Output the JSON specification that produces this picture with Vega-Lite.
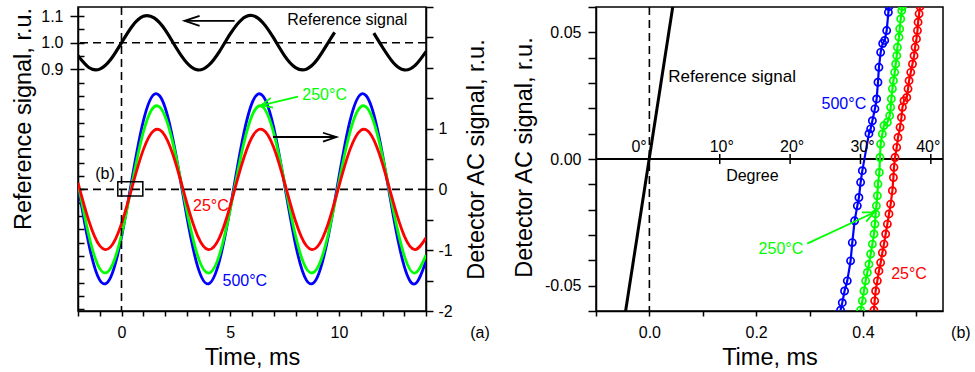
{
  "$schema": "https://vega.github.io/schema/vega-lite/v6.json",
  "padding": {"left": 11, "top": 5, "right": 5, "bottom": 5},
  "background": "white",
  "bounds": "flush",
  "spacing": 170,
  "config": {
    "font": "Liberation Sans",
    "view": {"stroke": "black", "strokeWidth": 1.5},
    "axis": {"domainColor": "black", "domainWidth": 1.5, "tickColor": "black", "tickWidth": 1.5, "labelColor": "black", "labelFontSize": 16, "titleColor": "black", "titleFontSize": 23.5, "titleFontWeight": "normal", "grid": false, "labelFont": "Liberation Sans", "titleFont": "Liberation Sans", "labelOverlap": false, "labelFlush": false, "labelBound": false},
    "text": {"font": "Liberation Sans"}
  },
  "datasets": {
    "refA": [
      {"t": -2, "ref": 0.951, "seg": 1}, {"t": -1.5, "ref": 0.907, "seg": 1}, {"t": -1, "ref": 0.901, "seg": 1}, {"t": -0.5, "ref": 0.937, "seg": 1},
      {"t": 0, "ref": 1.0, "seg": 1}, {"t": 0.5, "ref": 1.063, "seg": 1}, {"t": 1, "ref": 1.099, "seg": 1}, {"t": 1.5, "ref": 1.093, "seg": 1},
      {"t": 2, "ref": 1.049, "seg": 1}, {"t": 2.5, "ref": 0.983, "seg": 1}, {"t": 3, "ref": 0.925, "seg": 1}, {"t": 3.5, "ref": 0.898, "seg": 1},
      {"t": 4, "ref": 0.915, "seg": 1}, {"t": 4.5, "ref": 0.967, "seg": 1}, {"t": 5, "ref": 1.033, "seg": 1}, {"t": 5.5, "ref": 1.085, "seg": 1},
      {"t": 6, "ref": 1.102, "seg": 1}, {"t": 6.5, "ref": 1.075, "seg": 1}, {"t": 7, "ref": 1.017, "seg": 1}, {"t": 7.5, "ref": 0.951, "seg": 1},
      {"t": 8, "ref": 0.907, "seg": 1}, {"t": 8.5, "ref": 0.901, "seg": 1}, {"t": 9, "ref": 0.937, "seg": 1}, {"t": 9.5, "ref": 1.0, "seg": 1},
      {"t": 9.8, "ref": 1.039, "seg": 1},
      {"t": 11.6, "ref": 1.036, "seg": 2}, {"t": 12, "ref": 0.983, "seg": 2}, {"t": 12.5, "ref": 0.925, "seg": 2}, {"t": 13, "ref": 0.898, "seg": 2},
      {"t": 13.5, "ref": 0.915, "seg": 2}, {"t": 14, "ref": 0.967, "seg": 2}
    ],
    "detA": [
      {"t": -2, "b": 0.069, "g": 0.105, "r": 0.108}, {"t": -1.5, "b": -0.904, "g": -0.759, "r": -0.519},
      {"t": -1, "b": -1.492, "g": -1.303, "r": -0.927}, {"t": -0.5, "b": -1.446, "g": -1.298, "r": -0.945},
      {"t": 0, "b": -0.786, "g": -0.745, "r": -0.564}, {"t": 0.5, "b": 0.209, "g": 0.122, "r": 0.055},
      {"t": 1, "b": 1.121, "g": 0.937, "r": 0.65}, {"t": 1.5, "b": 1.564, "g": 1.358, "r": 0.972},
      {"t": 2, "b": 1.352, "g": 1.205, "r": 0.883}, {"t": 2.5, "b": 0.574, "g": 0.545, "r": 0.422},
      {"t": 3, "b": -0.442, "g": -0.345, "r": -0.217}, {"t": 3.5, "b": -1.267, "g": -1.09, "r": -0.764},
      {"t": 4, "b": -1.553, "g": -1.375, "r": -0.99}, {"t": 4.5, "b": -1.18, "g": -1.08, "r": -0.797},
      {"t": 5, "b": -0.306, "g": -0.33, "r": -0.269}, {"t": 5.5, "b": 0.703, "g": 0.56, "r": 0.373},
      {"t": 6, "b": 1.419, "g": 1.213, "r": 0.858}, {"t": 6.5, "b": 1.54, "g": 1.355, "r": 0.981},
      {"t": 7, "b": 1.017, "g": 0.925, "r": 0.69}, {"t": 7.5, "b": 0.069, "g": 0.105, "r": 0.108},
      {"t": 8, "b": -0.904, "g": -0.759, "r": -0.519}, {"t": 8.5, "b": -1.492, "g": -1.303, "r": -0.927},
      {"t": 9, "b": -1.446, "g": -1.298, "r": -0.945}, {"t": 9.5, "b": -0.786, "g": -0.745, "r": -0.564},
      {"t": 10, "b": 0.209, "g": 0.122, "r": 0.055}, {"t": 10.5, "b": 1.121, "g": 0.937, "r": 0.65},
      {"t": 11, "b": 1.564, "g": 1.358, "r": 0.972}, {"t": 11.5, "b": 1.352, "g": 1.205, "r": 0.883},
      {"t": 12, "b": 0.574, "g": 0.545, "r": 0.422}, {"t": 12.5, "b": -0.442, "g": -0.345, "r": -0.217},
      {"t": 13, "b": -1.267, "g": -1.09, "r": -0.764}, {"t": 13.5, "b": -1.553, "g": -1.375, "r": -0.99},
      {"t": 14, "b": -1.18, "g": -1.08, "r": -0.797}
    ],
    "annA": [
      {"t": 10.38, "v": 2.707, "txt": "Reference signal", "s": "ref"},
      {"t": 9.34, "v": 1.47, "txt": "250°C", "s": "250"},
      {"t": 4.11, "v": -0.357, "txt": "25°C", "s": "25"},
      {"t": 5.67, "v": -1.593, "txt": "500°C", "s": "500"},
      {"t": -0.76, "v": 0.178, "txt": "(b)", "s": "ref"},
      {"t": 16.48, "v": -2.45, "txt": "(a)", "s": "ref"}
    ],
    "arrA": [
      {"t": 5.2, "v": 2.773, "grp": "a1", "ord": 1, "s": "ref"}, {"t": 2.9, "v": 2.773, "grp": "a1", "ord": 2, "s": "ref"},
      {"t": 3.59, "v": 2.855, "grp": "h1", "ord": 1, "s": "ref"}, {"t": 2.9, "v": 2.773, "grp": "h1", "ord": 2, "s": "ref"}, {"t": 3.59, "v": 2.69, "grp": "h1", "ord": 3, "s": "ref"},
      {"t": 6.963, "v": 0.862, "grp": "a2", "ord": 1, "s": "ref"}, {"t": 9.88, "v": 0.862, "grp": "a2", "ord": 2, "s": "ref"},
      {"t": 9.264, "v": 0.932, "grp": "h2", "ord": 1, "s": "ref"}, {"t": 9.88, "v": 0.862, "grp": "h2", "ord": 2, "s": "ref"}, {"t": 9.264, "v": 0.787, "grp": "h2", "ord": 3, "s": "ref"},
      {"t": 8.11, "v": 1.525, "grp": "a3", "ord": 1, "s": "250"}, {"t": 6.43, "v": 1.384, "grp": "a3", "ord": 2, "s": "250"},
      {"t": 6.967, "v": 1.344, "grp": "h3", "ord": 1, "s": "250"}, {"t": 6.43, "v": 1.384, "grp": "h3", "ord": 2, "s": "250"}, {"t": 6.861, "v": 1.506, "grp": "h3", "ord": 3, "s": "250"}
    ],
    "refB": [{"t": -0.0449, "y": -0.0605}, {"t": 0.0441, "y": 0.0605}],
    "serB": [
      {"s": "500", "t": 0.4488, "y": 0.0602}, {"s": "500", "t": 0.4477, "y": 0.0579}, {"s": "500", "t": 0.4445, "y": 0.0507}, {"s": "500", "t": 0.4408, "y": 0.0468},
      {"s": "500", "t": 0.437, "y": 0.0456}, {"s": "500", "t": 0.4332, "y": 0.0421}, {"s": "500", "t": 0.43, "y": 0.0362}, {"s": "500", "t": 0.4282, "y": 0.0303},
      {"s": "500", "t": 0.4257, "y": 0.0237}, {"s": "500", "t": 0.4225, "y": 0.0198}, {"s": "500", "t": 0.4177, "y": 0.0151}, {"s": "500", "t": 0.4145, "y": 0.0119},
      {"s": "500", "t": 0.4113, "y": 0.01}, {"s": "500", "t": 0.3989, "y": -0.0046}, {"s": "500", "t": 0.3957, "y": -0.0092}, {"s": "500", "t": 0.3925, "y": -0.0152},
      {"s": "500", "t": 0.3895, "y": -0.0185}, {"s": "500", "t": 0.3844, "y": -0.0244}, {"s": "500", "t": 0.3801, "y": -0.033}, {"s": "500", "t": 0.3769, "y": -0.0402},
      {"s": "500", "t": 0.3707, "y": -0.0481}, {"s": "500", "t": 0.3656, "y": -0.0521}, {"s": "500", "t": 0.3613, "y": -0.0567}, {"s": "500", "t": 0.3581, "y": -0.0597},
      {"s": "250", "t": 0.474, "y": 0.0602}, {"s": "250", "t": 0.4727, "y": 0.0586}, {"s": "250", "t": 0.4708, "y": 0.0553}, {"s": "250", "t": 0.4689, "y": 0.0514},
      {"s": "250", "t": 0.4676, "y": 0.0481}, {"s": "250", "t": 0.4646, "y": 0.0441}, {"s": "250", "t": 0.4633, "y": 0.0408}, {"s": "250", "t": 0.4614, "y": 0.0375},
      {"s": "250", "t": 0.4595, "y": 0.0342}, {"s": "250", "t": 0.4571, "y": 0.0309}, {"s": "250", "t": 0.4552, "y": 0.0277}, {"s": "250", "t": 0.4533, "y": 0.0237},
      {"s": "250", "t": 0.452, "y": 0.0204}, {"s": "250", "t": 0.4501, "y": 0.0171}, {"s": "250", "t": 0.4458, "y": 0.0145}, {"s": "250", "t": 0.4394, "y": 0.0132},
      {"s": "250", "t": 0.4364, "y": 0.0099}, {"s": "250", "t": 0.4332, "y": 0.0059}, {"s": "250", "t": 0.4319, "y": 0.0006}, {"s": "250", "t": 0.4308, "y": -0.0053},
      {"s": "250", "t": 0.4282, "y": -0.0099}, {"s": "250", "t": 0.427, "y": -0.0145}, {"s": "250", "t": 0.4252, "y": -0.0185}, {"s": "250", "t": 0.4238, "y": -0.0217},
      {"s": "250", "t": 0.4225, "y": -0.0257}, {"s": "250", "t": 0.4207, "y": -0.0296}, {"s": "250", "t": 0.4177, "y": -0.0336}, {"s": "250", "t": 0.4145, "y": -0.0375},
      {"s": "250", "t": 0.4113, "y": -0.0415}, {"s": "250", "t": 0.4083, "y": -0.0448}, {"s": "250", "t": 0.4051, "y": -0.0481}, {"s": "250", "t": 0.4019, "y": -0.0521},
      {"s": "250", "t": 0.3989, "y": -0.056}, {"s": "250", "t": 0.3957, "y": -0.0597},
      {"s": "25", "t": 0.507, "y": 0.0602}, {"s": "25", "t": 0.5052, "y": 0.0573}, {"s": "25", "t": 0.5033, "y": 0.054}, {"s": "25", "t": 0.5022, "y": 0.0507},
      {"s": "25", "t": 0.5003, "y": 0.0474}, {"s": "25", "t": 0.4977, "y": 0.0441}, {"s": "25", "t": 0.4958, "y": 0.0408}, {"s": "25", "t": 0.4928, "y": 0.0375},
      {"s": "25", "t": 0.4896, "y": 0.0342}, {"s": "25", "t": 0.4864, "y": 0.0309}, {"s": "25", "t": 0.4845, "y": 0.0277}, {"s": "25", "t": 0.4821, "y": 0.0243},
      {"s": "25", "t": 0.477, "y": 0.023}, {"s": "25", "t": 0.474, "y": 0.0204}, {"s": "25", "t": 0.4721, "y": 0.0164}, {"s": "25", "t": 0.4695, "y": 0.0125},
      {"s": "25", "t": 0.4657, "y": 0.0085}, {"s": "25", "t": 0.4633, "y": 0.0046}, {"s": "25", "t": 0.4601, "y": 0.0006}, {"s": "25", "t": 0.4582, "y": -0.0033},
      {"s": "25", "t": 0.4571, "y": -0.0073}, {"s": "25", "t": 0.4552, "y": -0.0125}, {"s": "25", "t": 0.452, "y": -0.0178}, {"s": "25", "t": 0.4488, "y": -0.0217},
      {"s": "25", "t": 0.4458, "y": -0.0257}, {"s": "25", "t": 0.4426, "y": -0.0296}, {"s": "25", "t": 0.4394, "y": -0.0336}, {"s": "25", "t": 0.4364, "y": -0.037},
      {"s": "25", "t": 0.4332, "y": -0.0409}, {"s": "25", "t": 0.43, "y": -0.0442}, {"s": "25", "t": 0.427, "y": -0.0481}, {"s": "25", "t": 0.4238, "y": -0.0521},
      {"s": "25", "t": 0.422, "y": -0.056}, {"s": "25", "t": 0.4207, "y": -0.0597}
    ],
    "degB": [
      {"t": 0.1318, "y1": -0.002, "y2": 0.002}, {"t": 0.2636, "y1": -0.002, "y2": 0.002},
      {"t": 0.3954, "y1": -0.002, "y2": 0.002}, {"t": 0.5272, "y1": -0.002, "y2": 0.002}
    ],
    "annB": [
      {"t": 0.3643, "y": 0.0199, "txt": "500°C", "s": "500"},
      {"t": 0.2464, "y": -0.0374, "txt": "250°C", "s": "250"},
      {"t": 0.4864, "y": -0.0473, "txt": "25°C", "s": "25"},
      {"t": 0.1929, "y": -0.0086, "txt": "Degree", "s": "ref"},
      {"t": 0.5835, "y": -0.0706, "txt": "(b)", "s": "ref"},
      {"t": -0.0194, "y": 0.0026, "txt": "0°", "s": "ref"},
      {"t": 0.1356, "y": 0.0026, "txt": "10°", "s": "ref"},
      {"t": 0.2674, "y": 0.0026, "txt": "20°", "s": "ref"},
      {"t": 0.3992, "y": 0.0026, "txt": "30°", "s": "ref"},
      {"t": 0.5224, "y": 0.0026, "txt": "40°", "s": "ref"}
    ],
    "arrB": [
      {"t": 0.2956, "y": -0.0334, "grp": "a", "ord": 1, "s": "250"}, {"t": 0.4207, "y": -0.0211, "grp": "a", "ord": 2, "s": "250"},
      {"t": 0.3981, "y": -0.0211, "grp": "h", "ord": 1, "s": "250"}, {"t": 0.4207, "y": -0.0211, "grp": "h", "ord": 2, "s": "250"}, {"t": 0.4062, "y": -0.0247, "grp": "h", "ord": 3, "s": "250"}
    ]
  },
  "hconcat": [
    {
      "width": 348,
      "height": 304,
      "resolve": {"scale": {"y": "independent"}, "axis": {"y": "independent"}},
      "layer": [
        {
          "data": {"name": "refA"},
          "mark": {"type": "line", "interpolate": "natural", "color": "black", "strokeWidth": 3.2, "clip": true},
          "encoding": {
            "x": {"field": "t", "type": "quantitative", "scale": {"domain": [-2, 14], "nice": false, "zero": false},
              "axis": {"values": [-2, -1, 0, 1, 2, 3, 4, 5, 6, 7, 8, 9, 10, 11, 12, 13, 14], "tickCount": 100, "tickSize": 5, "labelPadding": 8, "labelOverlap": false,
                "labelExpr": "datum.value >= 0 && datum.value % 5 == 0 ? '' + datum.value : ''",
                "title": "Time, ms", "titleX": 174, "titleY": 53.3, "titleBaseline": "alphabetic", "titleAlign": "center"}},
            "y": {"field": "ref", "type": "quantitative", "scale": {"domain": [-0.006, 1.134], "nice": false, "zero": false},
              "axis": {"orient": "left", "values": [0.9, 1.0, 1.1], "tickCount": 100, "format": ".1f", "tickSize": 8, "labelPadding": 7, "labelOverlap": false,
                "title": "Reference signal, r.u.", "titleX": -47.2, "titleY": 111.5, "titleAngle": 270, "titleBaseline": "alphabetic", "titleAlign": "center"}},
            "detail": {"field": "seg"}
          }
        },
        {
          "data": {"values": [{"ref": 1.0}]},
          "mark": {"type": "rule", "color": "black", "strokeWidth": 1.6, "strokeDash": [8, 5]},
          "encoding": {
            "y": {"field": "ref", "type": "quantitative", "scale": {"domain": [-0.006, 1.134], "nice": false, "zero": false},
              "axis": {"orient": "left", "values": [0, 0.05, 0.1, 0.15, 0.2, 0.25, 0.3, 0.35, 0.4, 0.45, 0.5, 0.55, 0.6, 0.65, 0.7, 0.75, 0.8, 0.85, 0.9, 0.95, 1.0, 1.05, 1.1],
                "tickCount": 100, "tickSize": -6, "labels": false, "domain": false, "title": null}}
          }
        },
        {
          "layer": [
            {
              "data": {"name": "detA"},
              "mark": {"type": "line", "interpolate": "natural", "color": "#0000ff", "strokeWidth": 2.8, "clip": true},
              "encoding": {
                "x": {"field": "t", "type": "quantitative", "scale": {"domain": [-2, 14], "nice": false, "zero": false}},
                "y": {"field": "b", "type": "quantitative", "scale": {"domain": [-2, 3], "nice": false, "zero": false},
                  "axis": {"orient": "right", "values": [-2, -1.5, -1, -0.5, 0, 0.5, 1, 1.5, 2, 2.5, 3], "tickCount": 100, "tickSize": 7, "labelPadding": 5, "labelOverlap": false,
                    "labelExpr": "datum.value <= 1 && datum.value % 1 == 0 ? '' + datum.value : ''",
                    "labelFontSize": {"condition": {"test": "datum.value > 1 || datum.value % 1 != 0", "value": 0}, "value": 16},
                    "title": "Detector AC signal, r.u.", "titleX": 57.5, "titleY": 152, "titleAngle": 270, "titleBaseline": "alphabetic", "titleAlign": "center"}}
              }
            },
            {
              "data": {"name": "detA"},
              "mark": {"type": "line", "interpolate": "natural", "color": "#00ff00", "strokeWidth": 2.8, "clip": true},
              "encoding": {
                "x": {"field": "t", "type": "quantitative", "scale": {"domain": [-2, 14], "nice": false, "zero": false}},
                "y": {"field": "g", "type": "quantitative", "scale": {"domain": [-2, 3], "nice": false, "zero": false}}
              }
            },
            {
              "data": {"name": "detA"},
              "mark": {"type": "line", "interpolate": "natural", "color": "#ff0000", "strokeWidth": 2.8, "clip": true},
              "encoding": {
                "x": {"field": "t", "type": "quantitative", "scale": {"domain": [-2, 14], "nice": false, "zero": false}},
                "y": {"field": "r", "type": "quantitative", "scale": {"domain": [-2, 3], "nice": false, "zero": false}}
              }
            },
            {
              "data": {"values": [{"v": 0}]},
              "mark": {"type": "rule", "color": "black", "strokeWidth": 1.6, "strokeDash": [8, 5]},
              "encoding": {
                "y": {"field": "v", "type": "quantitative", "scale": {"domain": [-2, 3], "nice": false, "zero": false}}
              }
            },
            {
              "data": {"values": [{"t": 0}]},
              "mark": {"type": "rule", "color": "black", "strokeWidth": 1.6, "strokeDash": [8, 5]},
              "encoding": {
                "x": {"field": "t", "type": "quantitative", "scale": {"domain": [-2, 14], "nice": false, "zero": false}}
              }
            },
            {
              "data": {"values": [{"t1": -0.17, "t2": 0.98, "v1": -0.11, "v2": 0.125}]},
              "mark": {"type": "rect", "fillOpacity": 0, "stroke": "black", "strokeWidth": 1.5},
              "encoding": {
                "x": {"field": "t1", "type": "quantitative", "scale": {"domain": [-2, 14], "nice": false, "zero": false}},
                "x2": {"field": "t2"},
                "y": {"field": "v1", "type": "quantitative", "scale": {"domain": [-2, 3], "nice": false, "zero": false}},
                "y2": {"field": "v2"}
              }
            },
            {
              "data": {"name": "arrA"},
              "mark": {"type": "line", "strokeWidth": 1.8},
              "encoding": {
                "x": {"field": "t", "type": "quantitative", "scale": {"domain": [-2, 14], "nice": false, "zero": false}},
                "y": {"field": "v", "type": "quantitative", "scale": {"domain": [-2, 3], "nice": false, "zero": false}},
                "detail": {"field": "grp"},
                "order": {"field": "ord", "type": "quantitative"},
                "color": {"field": "s", "type": "nominal", "scale": {"domain": ["500", "250", "25", "ref"], "range": ["#0000ff", "#00ff00", "#ff0000", "#000000"]}, "legend": null}
              }
            },
            {
              "data": {"name": "annA"},
              "mark": {"type": "text", "fontSize": 16, "baseline": "alphabetic", "align": "center"},
              "encoding": {
                "x": {"field": "t", "type": "quantitative", "scale": {"domain": [-2, 14], "nice": false, "zero": false}},
                "y": {"field": "v", "type": "quantitative", "scale": {"domain": [-2, 3], "nice": false, "zero": false}},
                "text": {"field": "txt"},
                "color": {"field": "s", "type": "nominal", "scale": {"domain": ["500", "250", "25", "ref"], "range": ["#0000ff", "#00ff00", "#ff0000", "#000000"]}, "legend": null}
              }
            }
          ]
        }
      ]
    },
    {
      "width": 347,
      "height": 304,
      "layer": [
        {
          "data": {"name": "refB"},
          "mark": {"type": "line", "color": "black", "strokeWidth": 3, "clip": true},
          "encoding": {
            "x": {"field": "t", "type": "quantitative", "scale": {"domain": [-0.1, 0.55], "nice": false, "zero": false},
              "axis": {"values": [-0.1, 0, 0.1, 0.2, 0.3, 0.4, 0.5], "tickCount": 100, "tickSize": 5, "labelPadding": 8, "labelOverlap": false,
                "labelExpr": "datum.value >= 0 && abs(datum.value*5 - round(datum.value*5)) < 0.001 ? format(datum.value, '.1f') : ''",
                "title": "Time, ms", "titleX": 173.5, "titleY": 53.3, "titleBaseline": "alphabetic", "titleAlign": "center"}},
            "y": {"field": "y", "type": "quantitative", "scale": {"domain": [-0.06, 0.06], "nice": false, "zero": false},
              "axis": {"values": [-0.06, -0.05, -0.04, -0.03, -0.02, -0.01, 0, 0.01, 0.02, 0.03, 0.04, 0.05, 0.06], "tickCount": 100, "tickSize": 8, "labelPadding": 7, "labelOverlap": false,
                "labelExpr": "abs(abs(datum.value) - 0.05) < 0.001 || abs(datum.value) < 0.001 ? replace(format(datum.value, '.2f'), '\u2212', '-') : ''",
                "labelFontSize": {"condition": {"test": "abs(abs(datum.value) - 0.05) > 0.001 && abs(datum.value) > 0.001", "value": 0}, "value": 16},
                "title": "Detector AC signal, r.u.", "titleX": -64.2, "titleY": 150, "titleAngle": 270, "titleBaseline": "alphabetic", "titleAlign": "center"}}
          }
        },
        {
          "data": {"values": [{"y": 0}]},
          "mark": {"type": "rule", "color": "black", "strokeWidth": 2},
          "encoding": {
            "y": {"field": "y", "type": "quantitative", "scale": {"domain": [-0.06, 0.06], "nice": false, "zero": false}}
          }
        },
        {
          "data": {"values": [{"t": 0}]},
          "mark": {"type": "rule", "color": "black", "strokeWidth": 1.6, "strokeDash": [8, 5]},
          "encoding": {
            "x": {"field": "t", "type": "quantitative", "scale": {"domain": [-0.1, 0.55], "nice": false, "zero": false}}
          }
        },
        {
          "data": {"name": "degB"},
          "mark": {"type": "rule", "color": "black", "strokeWidth": 1.5},
          "encoding": {
            "x": {"field": "t", "type": "quantitative", "scale": {"domain": [-0.1, 0.55], "nice": false, "zero": false}},
            "y": {"field": "y1", "type": "quantitative", "scale": {"domain": [-0.06, 0.06], "nice": false, "zero": false}},
            "y2": {"field": "y2"}
          }
        },
        {
          "data": {"name": "serB"},
          "mark": {"type": "line", "strokeWidth": 2.2, "clip": true},
          "encoding": {
            "x": {"field": "t", "type": "quantitative", "scale": {"domain": [-0.1, 0.55], "nice": false, "zero": false}},
            "y": {"field": "y", "type": "quantitative", "scale": {"domain": [-0.06, 0.06], "nice": false, "zero": false}},
            "order": {"field": "y", "type": "quantitative"},
            "color": {"field": "s", "type": "nominal", "scale": {"domain": ["500", "250", "25", "ref"], "range": ["#0000ff", "#00ff00", "#ff0000", "#000000"]}, "legend": null}
          }
        },
        {
          "data": {"name": "serB"},
          "mark": {"type": "point", "shape": "circle", "filled": false, "size": 52, "strokeWidth": 1.7, "opacity": 1, "clip": true},
          "encoding": {
            "x": {"field": "t", "type": "quantitative", "scale": {"domain": [-0.1, 0.55], "nice": false, "zero": false}},
            "y": {"field": "y", "type": "quantitative", "scale": {"domain": [-0.06, 0.06], "nice": false, "zero": false}},
            "color": {"field": "s", "type": "nominal", "scale": {"domain": ["500", "250", "25", "ref"], "range": ["#0000ff", "#00ff00", "#ff0000", "#000000"]}, "legend": null}
          }
        },
        {
          "data": {"name": "arrB"},
          "mark": {"type": "line", "strokeWidth": 1.8},
          "encoding": {
            "x": {"field": "t", "type": "quantitative", "scale": {"domain": [-0.1, 0.55], "nice": false, "zero": false}},
            "y": {"field": "y", "type": "quantitative", "scale": {"domain": [-0.06, 0.06], "nice": false, "zero": false}},
            "detail": {"field": "grp"},
            "order": {"field": "ord", "type": "quantitative"},
            "color": {"field": "s", "type": "nominal", "scale": {"domain": ["500", "250", "25", "ref"], "range": ["#0000ff", "#00ff00", "#ff0000", "#000000"]}, "legend": null}
          }
        },
        {
          "data": {"name": "annB"},
          "mark": {"type": "text", "fontSize": 16, "baseline": "alphabetic", "align": "center"},
          "encoding": {
            "x": {"field": "t", "type": "quantitative", "scale": {"domain": [-0.1, 0.55], "nice": false, "zero": false}},
            "y": {"field": "y", "type": "quantitative", "scale": {"domain": [-0.06, 0.06], "nice": false, "zero": false}},
            "text": {"field": "txt"},
            "color": {"field": "s", "type": "nominal", "scale": {"domain": ["500", "250", "25", "ref"], "range": ["#0000ff", "#00ff00", "#ff0000", "#000000"]}, "legend": null}
          }
        },
        {
          "data": {"values": [{"t": 0.0355, "y": 0.0304, "txt": "Reference signal"}]},
          "mark": {"type": "text", "fontSize": 17, "baseline": "alphabetic", "align": "left", "color": "black"},
          "encoding": {
            "x": {"field": "t", "type": "quantitative", "scale": {"domain": [-0.1, 0.55], "nice": false, "zero": false}},
            "y": {"field": "y", "type": "quantitative", "scale": {"domain": [-0.06, 0.06], "nice": false, "zero": false}},
            "text": {"field": "txt"}
          }
        }
      ]
    }
  ]
}
